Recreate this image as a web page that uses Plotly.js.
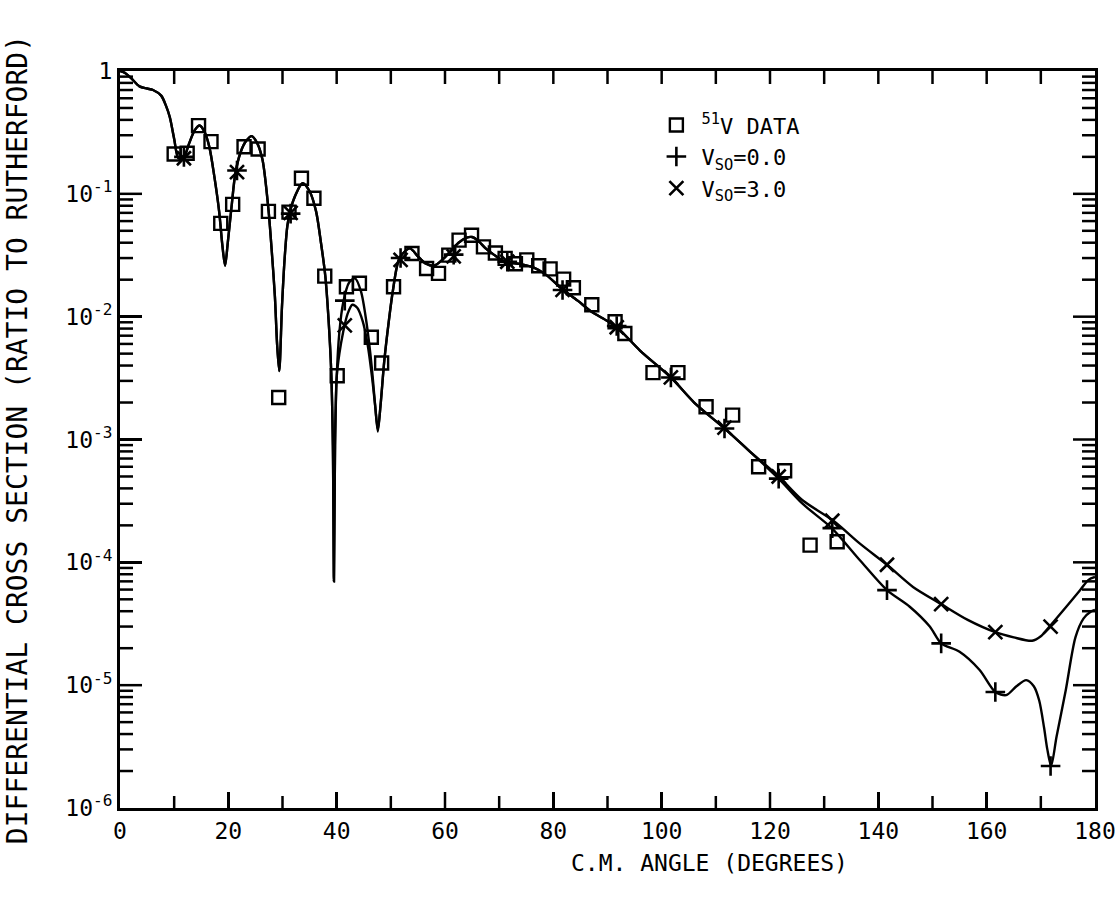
<!DOCTYPE html>
<html>
<head>
<meta charset="utf-8">
<script src="https://cdn.plot.ly/plotly-3.0.1.min.js"></script>
<style>html,body{margin:0;padding:0;background:#fff;}#chart{width:1117px;height:902px;}</style>
</head>
<body>
<div id="chart"></div>
<script>
// ---- measured data (angle in degrees, ratio to Rutherford) ----
var dataAngle = [10.0, 12.4, 14.5, 16.8, 18.6, 20.8, 22.9, 25.5, 27.4, 29.3, 31.2, 33.5, 35.8, 37.8, 40.1, 41.8, 44.2, 46.4, 48.3, 50.5, 53.9, 56.6, 58.8, 60.7, 62.6, 64.9, 67.1, 69.3, 71.1, 73.0, 75.1, 77.3, 79.4, 81.9, 83.7, 87.1, 91.4, 93.2, 98.4, 103.0, 108.2, 113.1, 117.9, 122.7, 127.4, 132.4];
var dataRatio = [0.211, 0.214, 0.359, 0.266, 0.0575, 0.082, 0.242, 0.232, 0.072, 0.0022, 0.071, 0.134, 0.092, 0.0214, 0.0033, 0.0175, 0.0187, 0.0068, 0.0042, 0.0175, 0.0327, 0.0247, 0.0225, 0.0317, 0.042, 0.046, 0.037, 0.033, 0.0298, 0.027, 0.029, 0.026, 0.0245, 0.0202, 0.0172, 0.0125, 0.0091, 0.0073, 0.0035, 0.0035, 0.00185, 0.00158, 0.0006, 0.000556, 0.000138, 0.000147];

// ---- calculation with V_SO = 0.0 (curve) ----
var calc0Angle = [0, 1, 2, 3.6, 5, 6.1, 7.6, 8.5, 9.2, 10, 10.8, 11.8, 12.8, 13.8, 14.7, 15.6, 16.5, 17.4, 18.3, 18.9, 19.4, 19.9, 20.6, 21.3, 22.3, 23.3, 24.3, 25.3, 26.3, 27.4, 28.0, 28.6, 29.0, 29.4, 29.9, 30.4, 30.9, 31.5, 32.4, 33.7, 35.0, 36.2, 37.1, 37.9, 38.5, 39.0, 39.3, 39.5, 39.7, 40.0, 40.5, 41.2, 42.3, 43.4, 44.5, 45.5, 46.5, 47.1, 47.6, 48.1, 48.8, 49.6, 50.4, 51.6, 53.5, 55, 56.5, 58, 59.5, 61, 62.5, 64, 65, 66, 67.5, 69, 71, 74, 76.5, 78.5, 81.5, 84.5, 87, 90, 92, 96, 101.7, 106, 111.6, 116, 121.6, 126, 131.4, 136.6, 141.6, 145.8, 149.5, 151.6, 155.0, 158.7, 161.6, 163.6, 165.5, 167.3, 168.7, 169.7, 170.6, 171.2, 171.9, 172.9, 174.6, 176.4, 177.9, 179.2, 180];
var calc0Ratio = [1.0, 0.96, 0.88, 0.75, 0.72, 0.70, 0.63, 0.52, 0.42, 0.28, 0.195, 0.2, 0.26, 0.33, 0.36, 0.32, 0.24, 0.14, 0.072, 0.038, 0.026, 0.04, 0.079, 0.147, 0.22, 0.27, 0.295, 0.26, 0.19, 0.075, 0.035, 0.0145, 0.006, 0.0036, 0.012, 0.03, 0.055, 0.075, 0.098, 0.122, 0.105, 0.072, 0.04, 0.0215, 0.0095, 0.0035, 0.0009, 0.00007, 0.0009, 0.0032, 0.0075, 0.013, 0.019, 0.0205, 0.016, 0.009, 0.0038, 0.0019, 0.00116, 0.0019, 0.0044, 0.009, 0.0165, 0.03, 0.036, 0.031, 0.027, 0.026, 0.029, 0.034, 0.04, 0.044, 0.0445, 0.042, 0.036, 0.032, 0.028, 0.0268, 0.025, 0.0222, 0.017, 0.0135, 0.011, 0.0092, 0.008, 0.0053, 0.0032, 0.002, 0.00123, 0.00082, 0.00048, 0.0003, 0.00019, 0.000104, 0.0000594, 0.0000435, 0.00003, 0.0000219, 0.0000187, 0.0000133, 0.0000088, 0.0000083, 0.0000098, 0.000011, 0.0000098, 0.0000075, 0.0000045, 0.000003, 0.0000022, 0.0000038, 0.0000091, 0.0000246, 0.000035, 0.0000396, 0.000041];

// ---- calculation with V_SO = 3.0 (curve) ----
var calc3Angle = [0, 1, 2, 3.6, 5, 6.1, 7.6, 8.5, 9.2, 10, 10.8, 11.8, 12.8, 13.8, 14.7, 15.6, 16.5, 17.4, 18.3, 18.9, 19.4, 19.9, 20.6, 21.3, 22.3, 23.3, 24.3, 25.3, 26.3, 27.4, 28.0, 28.6, 29.0, 29.4, 29.9, 30.4, 30.9, 31.5, 32.4, 33.7, 35.0, 36.2, 37.1, 37.9, 38.5, 39.0, 39.3, 39.5, 39.7, 40.0, 40.5, 41.2, 42.0, 42.9, 43.8, 44.8, 45.7, 46.5, 47.1, 47.6, 48.1, 48.8, 49.6, 50.4, 51.6, 53.5, 55, 56.5, 58, 59.5, 61, 62.5, 64, 65, 66, 67.5, 69, 71, 74, 76.5, 78.5, 81.5, 84.5, 87, 90, 92, 96, 101.7, 106, 111.6, 116, 121.6, 126, 131.7, 136.6, 141.6, 146.4, 151.6, 156.5, 161.6, 165, 168.4, 170, 171.6, 174.7, 177.2, 178.8, 180];
var calc3Ratio = [1.0, 0.96, 0.88, 0.75, 0.72, 0.70, 0.63, 0.52, 0.42, 0.28, 0.195, 0.2, 0.26, 0.33, 0.36, 0.32, 0.24, 0.14, 0.072, 0.038, 0.026, 0.04, 0.079, 0.147, 0.22, 0.27, 0.295, 0.26, 0.19, 0.075, 0.035, 0.0145, 0.006, 0.0036, 0.012, 0.03, 0.055, 0.075, 0.098, 0.122, 0.105, 0.072, 0.04, 0.0215, 0.0095, 0.0035, 0.0009, 0.00007, 0.0009, 0.0032, 0.005, 0.0075, 0.0105, 0.0125, 0.0118, 0.0092, 0.006, 0.0033, 0.0019, 0.0012, 0.0019, 0.0044, 0.009, 0.0165, 0.03, 0.036, 0.031, 0.027, 0.026, 0.029, 0.034, 0.04, 0.044, 0.0445, 0.042, 0.036, 0.032, 0.028, 0.0268, 0.025, 0.0222, 0.017, 0.0135, 0.011, 0.0092, 0.008, 0.0053, 0.0032, 0.002, 0.00123, 0.00082, 0.0005, 0.00032, 0.000218, 0.000142, 0.0000955, 0.000063, 0.0000457, 0.000034, 0.000027, 0.0000245, 0.000023, 0.000025, 0.00003, 0.0000435, 0.000059, 0.000072, 0.000076];

// ---- symbol positions along the curves ----
var markAngle = [11.8, 21.6, 31.5, 41.5, 51.8, 61.6, 71.5, 81.7, 91.7, 101.7, 111.6, 121.6, 131.5, 141.6, 151.6, 161.6, 171.8];
var mark0Ratio = [0.2, 0.155, 0.069, 0.0135, 0.03, 0.032, 0.028, 0.0165, 0.0084, 0.0032, 0.00123, 0.00048, 0.00019, 0.0000594, 0.0000219, 0.0000088, 0.0000022];
var mark3Ratio = [0.195, 0.15, 0.07, 0.0085, 0.029, 0.031, 0.028, 0.0165, 0.0082, 0.0032, 0.00125, 0.0005, 0.000218, 0.0000955, 0.0000457, 0.000027, 0.00003];

// ---- tick labels ----
var yTickVals = [1e-6, 1e-5, 1e-4, 1e-3, 1e-2, 1e-1, 1];
var yTickText = ['10<sup>-6</sup>', '10<sup>-5</sup>', '10<sup>-4</sup>', '10<sup>-3</sup>', '10<sup>-2</sup>', '10<sup>-1</sup>', '1'];
var xTickVals = [0, 20, 40, 60, 80, 100, 120, 140, 160, 180];

var legendLabels = ['<sup>51</sup>V DATA', 'V<sub>SO</sub>=0.0', 'V<sub>SO</sub>=3.0'];
var xTitle = 'C.M. ANGLE (DEGREES)';
var yTitle = 'DIFFERENTIAL CROSS SECTION (RATIO TO RUTHERFORD)';

var FONT = 'DejaVu Sans Mono, Liberation Mono, monospace';

// ---- frame tick marks (all four sides) built as one line trace ----
var W = 1117 - 120 - 22, H = 902 - 71 - 94;
var X_MAX = 180, LOG_MIN = -6, LOG_SPAN = 6;
var tickX = [], tickY = [];
function seg(x0, y0, x1, y1) { tickX.push(x0, x1, null); tickY.push(y0, y1, null); }
for (var a = 10; a < X_MAX; a += 10) {
  var lenB = (a % 20 === 0) ? 16 : 12;
  seg(a, Math.pow(10, LOG_MIN), a, Math.pow(10, LOG_MIN + lenB / H * LOG_SPAN));
  seg(a, 1, a, Math.pow(10, -13 / H * LOG_SPAN));
}
for (var e = LOG_MIN; e < 0; e++) {
  for (var k = 1; k <= 9; k++) {
    if (e === LOG_MIN && k === 1) continue;
    var v = k * Math.pow(10, e);
    var len = (k === 1) ? 22 : 13;
    var dx = len / W * X_MAX;
    seg(0, v, dx, v);
    seg(X_MAX, v, X_MAX - dx, v);
  }
}

var lineStyle = {color: '#000', width: 2.4, shape: 'spline', smoothing: 0.8};

var traces = [
  {x: tickX, y: tickY, mode: 'lines', line: {color: '#000', width: 2.5, shape: 'linear'},
   connectgaps: false, showlegend: false, hoverinfo: 'skip'},
  {x: calc0Angle, y: calc0Ratio, mode: 'lines', line: lineStyle, showlegend: false, hoverinfo: 'skip'},
  {x: calc3Angle, y: calc3Ratio, mode: 'lines', line: lineStyle, showlegend: false, hoverinfo: 'skip'},
  {x: dataAngle, y: dataRatio, mode: 'markers', name: legendLabels[0],
   marker: {symbol: 'square-open', size: 13, color: '#000', line: {width: 2.4, color: '#000'}}},
  {x: markAngle, y: mark0Ratio, mode: 'markers', name: legendLabels[1],
   marker: {symbol: 'cross-thin-open', size: 14, color: '#000', line: {width: 2.6, color: '#000'}}},
  {x: markAngle, y: mark3Ratio, mode: 'markers', name: legendLabels[2],
   marker: {symbol: 'x-thin-open', size: 14, color: '#000', line: {width: 2.6, color: '#000'}}}
];

var layout = {
  width: 1117, height: 902,
  margin: {l: 120, r: 22, t: 71, b: 94},
  font: {family: FONT, color: '#000', size: 22},
  showlegend: true,
  legend: {x: 0.545, y: 0.955, xanchor: 'left', yanchor: 'top', bgcolor: 'rgba(0,0,0,0)',
           font: {family: FONT, size: 22, color: '#000'}, itemwidth: 40, tracegroupgap: 0},
  xaxis: {
    range: [0, X_MAX], tickmode: 'array', tickvals: xTickVals,
    ticks: 'inside', ticklen: 16, tickwidth: 2.5, tickcolor: '#000',
    showline: true, linewidth: 3, linecolor: '#000', mirror: true,
    showgrid: false, zeroline: false,
    tickfont: {family: FONT, size: 23, color: '#000'}
  },
  yaxis: {
    type: 'log', range: [LOG_MIN, 0], tickmode: 'array', tickvals: yTickVals, ticktext: yTickText,
    ticks: 'inside', ticklen: 22, tickwidth: 2.5, tickcolor: '#000',
    showline: true, linewidth: 3, linecolor: '#000', mirror: true,
    showgrid: false, zeroline: false,
    tickfont: {family: FONT, size: 23, color: '#000'}
  },
  annotations: [
    {text: xTitle, xref: 'paper', yref: 'paper', x: 0.605, y: -0.075, xanchor: 'center', yanchor: 'middle',
     showarrow: false, font: {family: FONT, size: 23, color: '#000'}},
    {text: yTitle, xref: 'paper', yref: 'paper', x: -0.105, y: 0.5, xanchor: 'center', yanchor: 'middle',
     textangle: -90, showarrow: false, font: {family: FONT, size: 28, color: '#000'}}
  ]
};

Plotly.newPlot('chart', traces, layout, {displayModeBar: false, staticPlot: true});
</script>
</body>
</html>
